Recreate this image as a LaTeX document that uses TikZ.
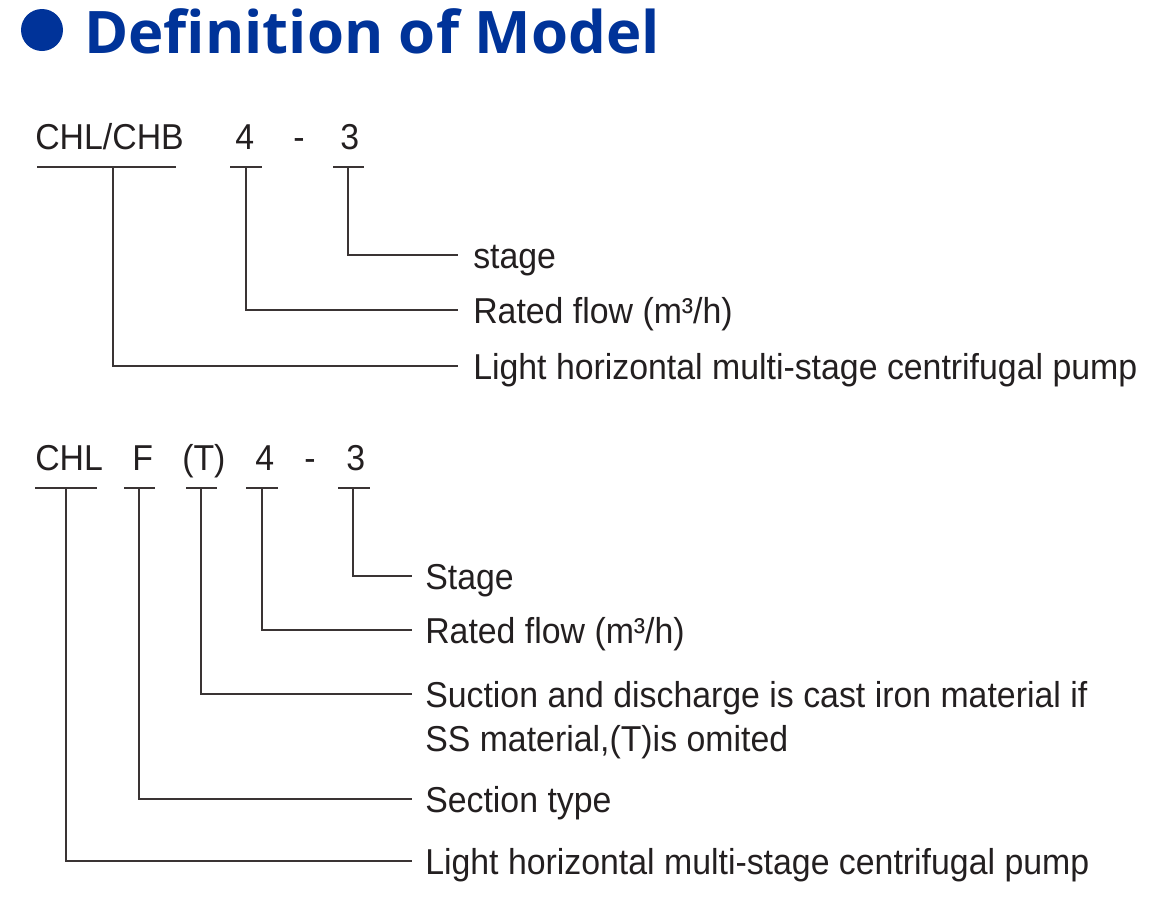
\documentclass[tikz,border=0pt]{standalone}
\usepackage{fontspec}
\setmainfont{Liberation Sans}[FakeStretch=0.94]
\newfontfamily\titlefont{Open Sans}[FakeStretch=1.02]
\usetikzlibrary{positioning}
\definecolor{inkc}{HTML}{231F20}
\definecolor{wirec}{HTML}{3A3434}
\definecolor{titleblue}{HTML}{003399}

\begin{document}
\begin{tikzpicture}[x=0.75pt, y=-0.75pt, font=\fontsize{27}{32}\selectfont,
                    code/.style = {anchor=base west, inner sep=0pt, text=inkc},
                    lbl/.style = {anchor=west, inner sep=0pt, text=inkc,
                                  text height=19.5pt, text depth=0pt},
                    wire/.style = {draw=wirec, line width=2.2pt}]
    \useasboundingbox (0,0) rectangle (1149,897);

    % title
    \fill[titleblue] (42,30) circle[radius=21];
    \node[anchor=base west, inner sep=0pt, text=titleblue,
          font=\titlefont\bfseries\fontsize{44}{48}\selectfont] (title) at (84,53) {Definition of Model};

    % first model
    \node[code] (chlchb) at (35,149) {CHL/CHB};
    \node[code] (flowa) at (235,149) {4};
    \node[code] (dasha) at (293,149) {-};
    \node[code] (stagea) at (340,149) {3};

    \foreach \name/\xa/\xb/\xm in {ua/37/176/113, ub/230/262/246, uc/333/364/348}{
        \draw[wire] (\xa,167) -- (\xb,167);
        \coordinate (\name) at (\xm,167);
    }

    \node[lbl] (la) at (473,255) {stage};
    \node[lbl] (lb) at (473,310) {Rated flow (m³/h)};
    \node[lbl] (lc) at (473,366) {Light horizontal multi-stage centrifugal pump};

    \draw[wire] (uc) |- ([xshift=-11.25pt]la.west);
    \draw[wire] (ub) |- ([xshift=-11.25pt]lb.west);
    \draw[wire] (ua) |- ([xshift=-11.25pt]lc.west);

    % second model
    \node[code] (chl) at (35,470) {CHL};
    \node[code] (sect) at (132,470) {F};
    \node[code] (mat) at (182,470) {(T)};
    \node[code] (flowb) at (255,470) {4};
    \node[code] (dashb) at (304,470) {-};
    \node[code] (stageb) at (346,470) {3};

    \foreach \name/\xa/\xb/\xm in {va/35/97/66, vb/124/155/139, vc/186/217/201,
                                   vd/246/278/262, ve/338/370/353}{
        \draw[wire] (\xa,488) -- (\xb,488);
        \coordinate (\name) at (\xm,488);
    }

    \node[lbl] (ma) at (425,576) {Stage};
    \node[lbl] (mb) at (425,630) {Rated flow (m³/h)};
    \node[lbl] (mc) at (425,694) {Suction and discharge is cast iron material if};
    \node[code] (mc2) at ([yshift=-33pt]mc.base west) {SS material,(T)is omited};
    \node[lbl] (md) at (425,799) {Section type};
    \node[lbl] (me) at (425,861) {Light horizontal multi-stage centrifugal pump};

    \draw[wire] (ve) |- ([xshift=-9.75pt]ma.west);
    \draw[wire] (vd) |- ([xshift=-9.75pt]mb.west);
    \draw[wire] (vc) |- ([xshift=-9.75pt]mc.west);
    \draw[wire] (vb) |- ([xshift=-9.75pt]md.west);
    \draw[wire] (va) |- ([xshift=-9.75pt]me.west);
\end{tikzpicture}
\end{document}
